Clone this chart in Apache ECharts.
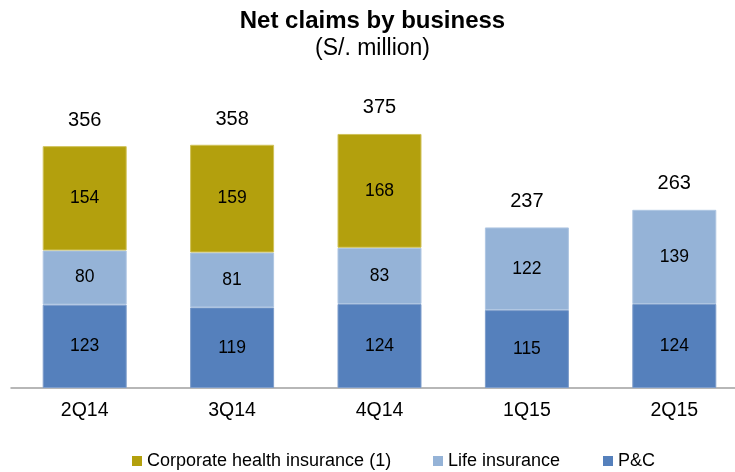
<!DOCTYPE html>
<html><head><meta charset="utf-8">
<script src="https://cdn.jsdelivr.net/npm/echarts@6/dist/echarts.min.js"></script>
<style>html,body{margin:0;padding:0;background:#fff;overflow:hidden}#c{width:750px;height:472px}</style>
</head><body><div id="c"></div>
<script>
const categories = ['2Q14','3Q14','4Q14','1Q15','2Q15'];
const pc = [123,119,124,115,124];
const life = [80,81,83,122,139];
const corporate = [154,159,168,null,null];
const totals = [356,358,375,237,263];

const chart = echarts.init(document.getElementById('c'));
const F = 'Arial, "Liberation Sans", sans-serif';
const inLabel = {show:true, position:'inside', color:'#000', fontSize:17.5, fontFamily:F};
const legText = {fontSize:18, color:'#000', fontFamily:F};
const legItem = {borderWidth:0};
chart.setOption({
  animation:false,
  title:[
    {text:'Net claims by business', left:367.5, textAlign:'center', top:4, textStyle:{fontSize:24, fontWeight:'bold', color:'#000', fontFamily:F}},
    {text:'(S/. million)', left:367.5, textAlign:'center', top:32, textStyle:{fontSize:23, fontWeight:'normal', color:'#000', fontFamily:F}}
  ],
  legend:[
    {data:['Corporate health insurance (1)'], left:127, top:447, itemWidth:10, itemHeight:10, icon:'rect', itemStyle:legItem, textStyle:legText},
    {data:['Life insurance'], left:428, top:447, itemWidth:10, itemHeight:10, icon:'rect', itemStyle:legItem, textStyle:legText},
    {data:['P&C'], left:598, top:447, itemWidth:10, itemHeight:10, icon:'rect', itemStyle:legItem, textStyle:legText}
  ],
  grid:{left:11, width:737, top:117, bottom:84, containLabel:false},
  xAxis:{type:'category', data:categories,
    axisLine:{lineStyle:{color:'#A0A0A0', width:1.5}}, axisTick:{show:false},
    axisLabel:{fontSize:19.5, color:'#000', fontFamily:F, margin:13}},
  yAxis:{type:'value', min:0, max:400, show:false, splitLine:{show:false}},
  series:[
    {name:'P&C', type:'bar', stack:'a', data:pc, barWidth:84, itemStyle:{color:'#5580BC', borderColor:'#7E9DCB', borderWidth:1}, label:inLabel},
    {name:'Life insurance', type:'bar', stack:'a', data:life, itemStyle:{color:'#95B3D7', borderColor:'#AFC6E2', borderWidth:1}, label:inLabel},
    {name:'Corporate health insurance (1)', type:'bar', stack:'a', data:corporate, itemStyle:{color:'#B3A00D', borderColor:'#D0C25A', borderWidth:1}, label:inLabel},
    {name:'Total', type:'bar', data:totals, barWidth:84, barGap:'-100%', itemStyle:{color:'rgba(0,0,0,0)'}, z:0,
      label:{show:true, position:'top', distance:16, color:'#000', fontSize:20, fontFamily:F}}
  ]
});
</script></body></html>
